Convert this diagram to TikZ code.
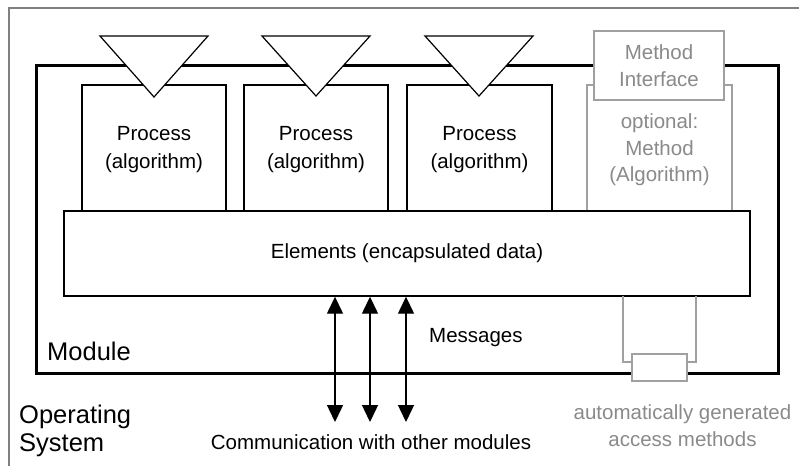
\documentclass[tikz,border=0pt]{standalone}
\usepackage{fontspec}
\setmainfont{Liberation Sans}
\usetikzlibrary{arrows.meta}
\definecolor{framegray}{HTML}{808080}
\definecolor{methgray}{HTML}{A0A0A0}
\definecolor{textgray}{HTML}{8A8A8A}
\tikzset{
  boxstyle/.style={draw=black, line width=1.4pt, fill=white, inner sep=0pt, align=center, font=\fontsize{20.5}{28}\selectfont},
  graybox/.style={draw=methgray, line width=1.4pt, fill=white, inner sep=0pt, align=center, text=textgray, font=\fontsize{20.5}{27}\selectfont},
  tri/.style={draw=black, line width=1.2pt, fill=white},
  msgarrow/.style={line width=1.4pt, {Triangle[length=17pt,width=16pt]}-{Triangle[length=17pt,width=16pt]}},
  lbl/.style={inner sep=0pt, align=center, font=\fontsize{20.5}{27}\selectfont},
  biglbl/.style={inner sep=0pt, align=left, font=\fontsize{25.5}{28}\selectfont}
}
\begin{document}
\begin{tikzpicture}[x=1pt,y=-1pt]
\useasboundingbox (0,0) rectangle (799,466);
% outer frame (top and left only)
\draw[framegray, line width=1.5pt] (9,466) -- (9,8) -- (799,8);
% module
\draw[line width=3pt] (36,65) rectangle (778,373);
% processes
\node[boxstyle, minimum width=144pt, minimum height=126pt] (p1) at (154,148) {};
\node[boxstyle, minimum width=144pt, minimum height=126pt] (p2) at (316,148) {};
\node[boxstyle, minimum width=145pt, minimum height=126pt] (p3) at (479.5,148) {};
\node[lbl, font=\fontsize{20.5}{28}\selectfont] (t1) at (154,150) {Process\\(algorithm)};
\node[lbl, font=\fontsize{20.5}{28}\selectfont] (t2) at (316,150) {Process\\(algorithm)};
\node[lbl, font=\fontsize{20.5}{28}\selectfont] (t3) at (479.5,150) {Process\\(algorithm)};
% optional method
\node[graybox, minimum width=145pt, minimum height=126pt] (meth) at (659.5,148) {};
\node[lbl, text=textgray, font=\fontsize{20.5}{26.5}\selectfont] (tm) at (659.5,150) {optional:\\Method\\(Algorithm)};
% elements
\node[boxstyle, minimum width=686pt, minimum height=85pt] (elem) at (407,253.5) {Elements (encapsulated data)};
% access methods
\draw[methgray, line width=1.4pt] (623,296) -- (623,362) -- (696,362) -- (696,296);
\node[graybox, minimum width=55pt, minimum height=27pt] (acc) at (659.5,367.5) {};
% interface triangles
\draw[tri] (100,36) -- (208,36) -- (154,97) -- cycle;
\draw[tri] (262,36) -- (370,36) -- (316,96) -- cycle;
\draw[tri] (425,36) -- (533,36) -- (479,96) -- cycle;
% method interface
\node[graybox, minimum width=130pt, minimum height=69pt] (mint) at (659,65.5) {Method\\Interface};
% messages
\coordinate (m1) at (335,422);
\coordinate (m2) at (370,422);
\coordinate (m3) at (406,422);
\draw[msgarrow] (elem.south -| m1) -- (m1);
\draw[msgarrow] (elem.south -| m2) -- (m2);
\draw[msgarrow] (elem.south -| m3) -- (m3);
% labels
\node[lbl, anchor=west] (msg) at (429,338) {Messages};
\node[biglbl, anchor=west] (mod) at (47,351) {Module};
\node[biglbl, anchor=west] (os) at (19,431) {Operating\\System};
\node[lbl] (comm) at (371,442) {Communication with other modules};
\node[lbl, text=textgray] (auto) at (682.5,425.5) {automatically generated\\access methods};
\end{tikzpicture}
\end{document}
